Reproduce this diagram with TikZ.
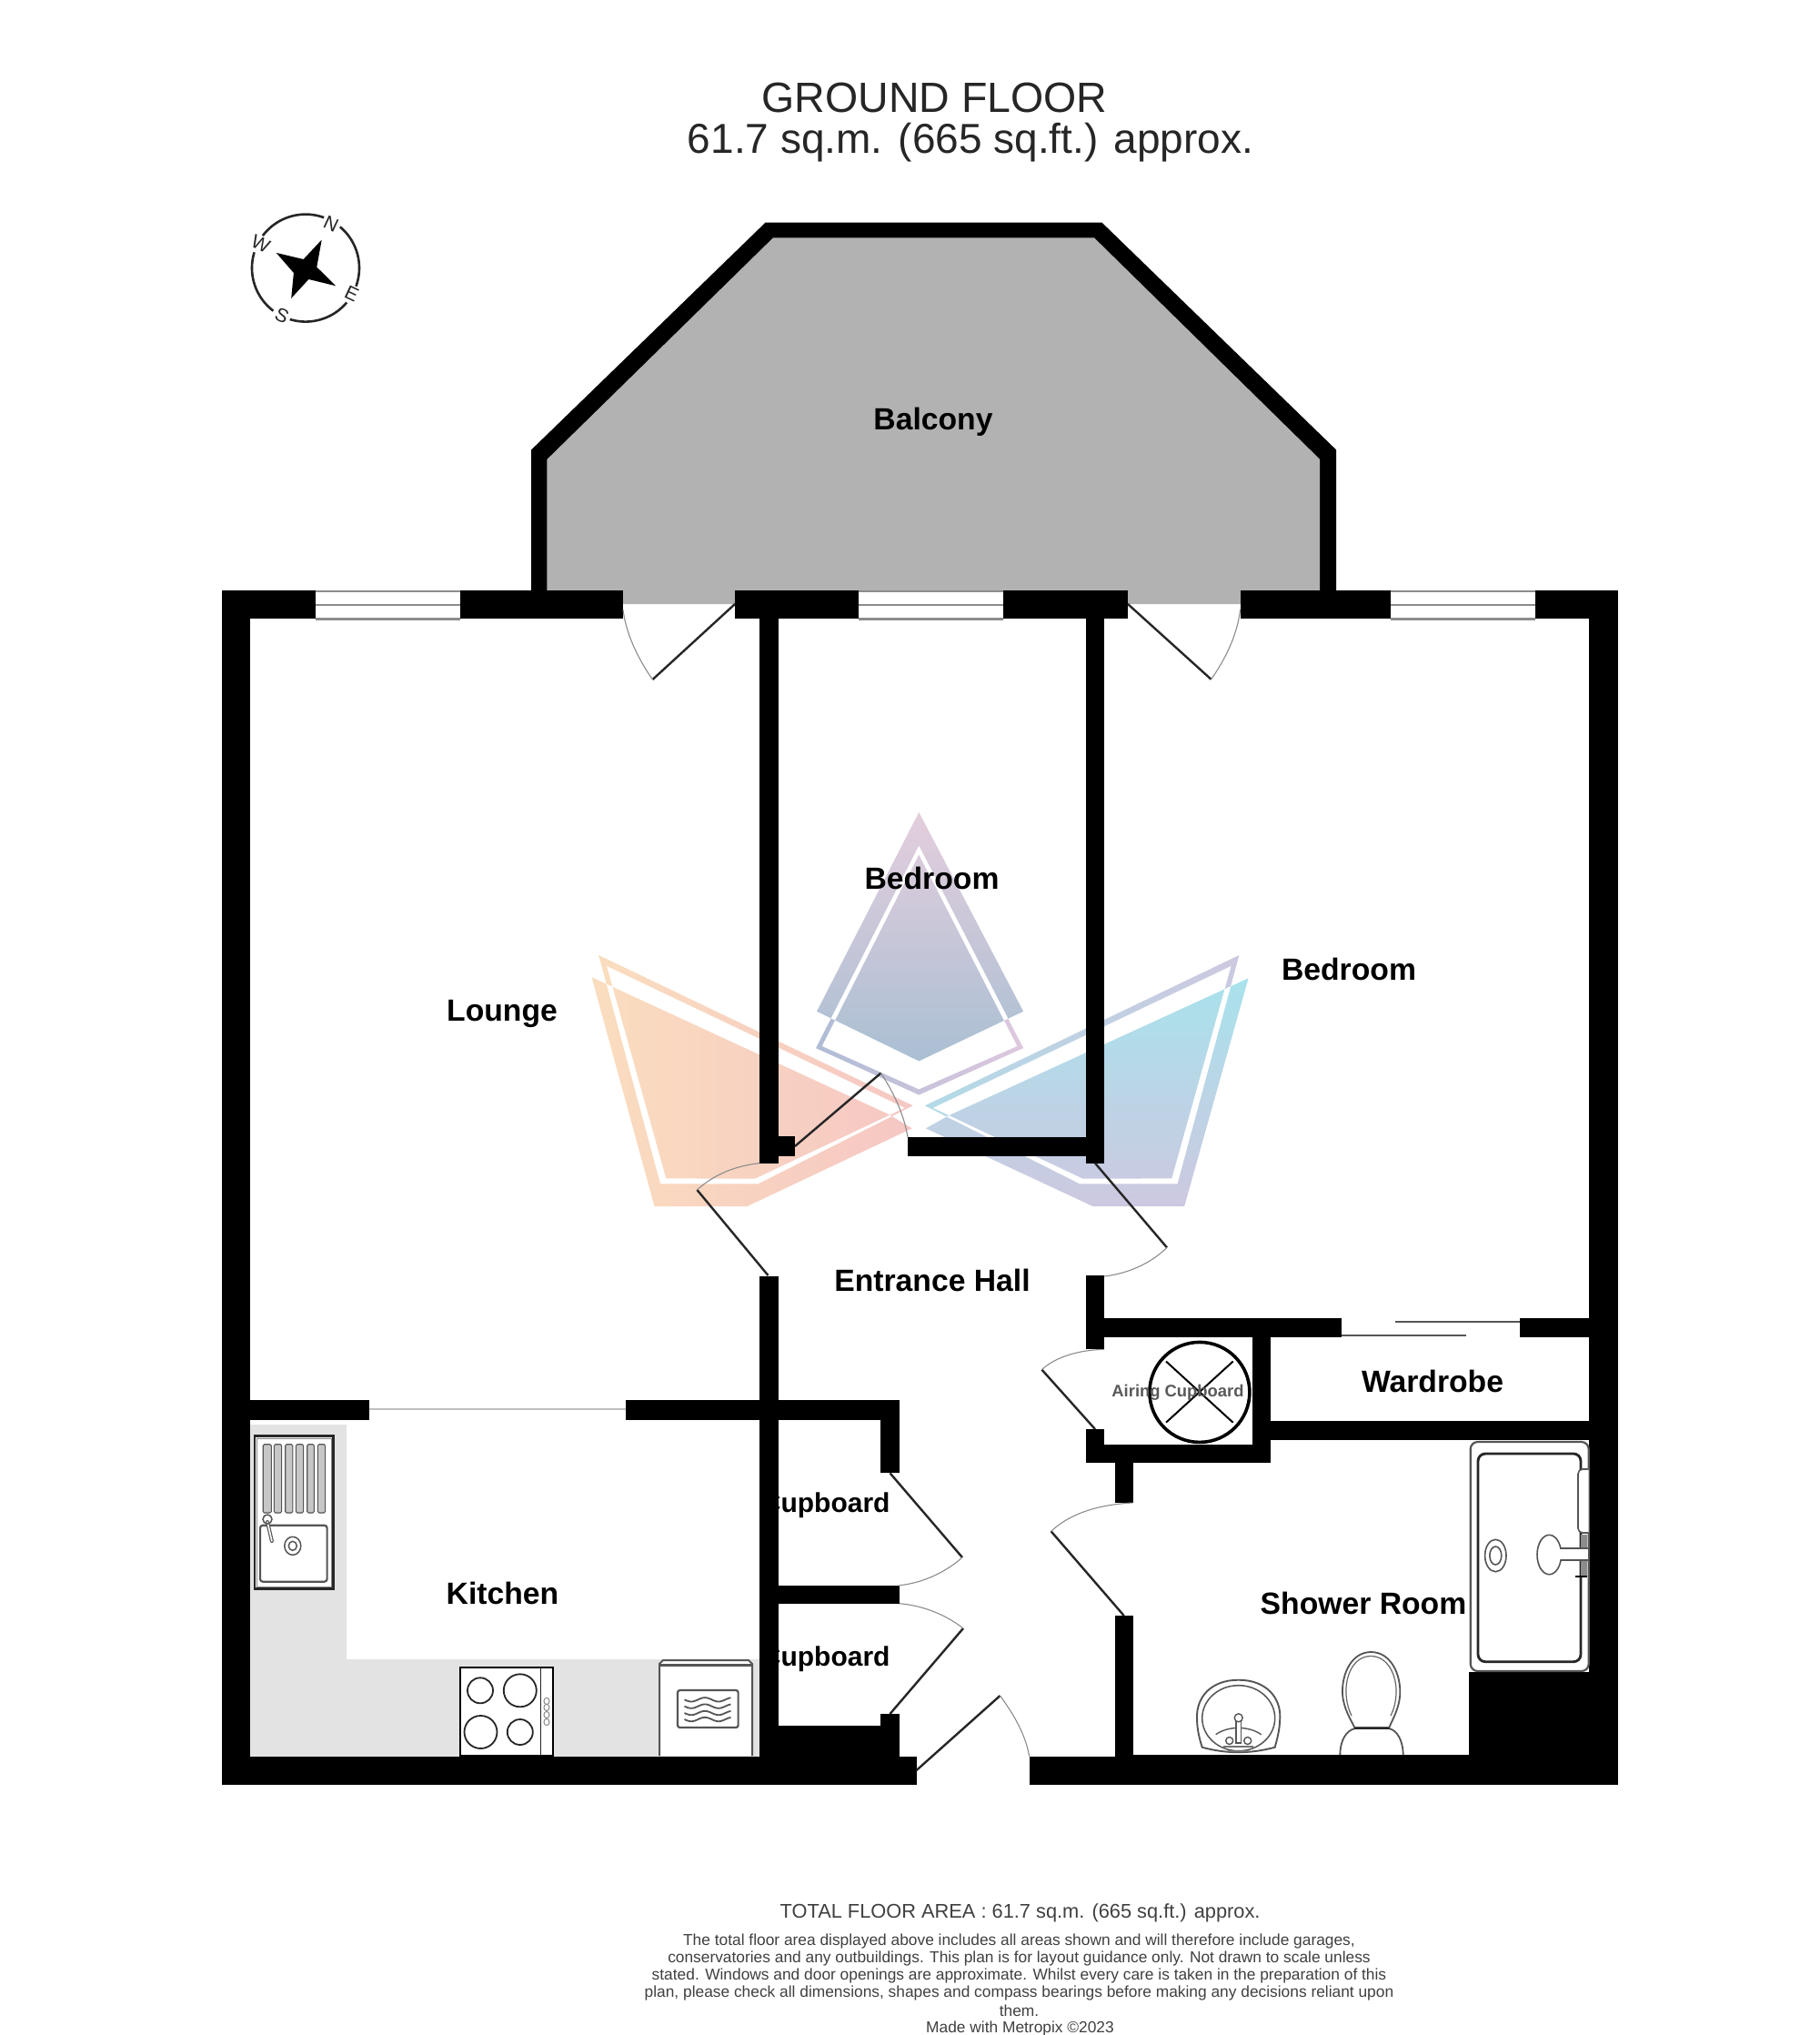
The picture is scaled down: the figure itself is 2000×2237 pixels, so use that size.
\documentclass[tikz,border=0pt]{standalone}
\usepackage{fontspec}
\setmainfont{Liberation Sans}
\definecolor{balc}{HTML}{B2B2B2}
\definecolor{unit}{HTML}{E3E3E3}
\definecolor{fix}{HTML}{555555}
\definecolor{orA}{RGB}{250,221,190}
\definecolor{orB}{RGB}{246,199,196}
\definecolor{blA}{RGB}{168,226,236}
\definecolor{blB}{RGB}{205,200,224}
\tikzset{
  wall/.style={fill=black,draw=none},
  leaf/.style={draw=black!85,line width=2.4pt},
  swing/.style={draw=black!45,line width=1.1pt},
  room/.style={font=\fontsize{33.7}{40}\selectfont\bfseries,inner sep=0pt,text=black},
  cupb/.style={font=\fontsize{30}{36}\selectfont\bfseries,inner sep=0pt,text=black},
  fixline/.style={draw=fix,line width=2.2pt,fill=white},
  foot/.style={font=\fontsize{17.35}{20}\selectfont,inner sep=0pt,text=black!75},
  compassletter/.style={font=\fontsize{21}{24}\selectfont,inner sep=0pt,text=black!85,rotate=-25},
}
\begin{document}
\begin{tikzpicture}[x=1pt,y=-1pt]
\useasboundingbox (0,0) rectangle (2000,2237);
\fill[white] (0,0) rectangle (2000,2237);

% ---------- watermark (coordinates read from a crop grid)
\begin{scope}[xshift=620pt,yshift=-860pt,x=0.5102pt,y=-0.35714pt]
  % left piece
  \shade[even odd rule,left color=orA,right color=orB]
    (75,532)--(752,995)--(418,1236)--(208,1236)--cycle (92,565)--(735,1002)--(412,1220)--(220,1219)--cycle;
  \shade[left color=orA,right color=orB]
    (60,600)--(700,1022)--(750,1065)--(395,1305)--(195,1305)--cycle;
  \begin{scope}
    \clip (60,600)--(700,1022)--(750,1065)--(395,1305)--(195,1305)--cycle;
    \fill[white,even odd rule] (75,532)--(752,995)--(418,1236)--(208,1236)--cycle (92,565)--(735,1002)--(412,1220)--(220,1219)--cycle;
  \end{scope}
  % right piece
  \shade[even odd rule,top color=blB,bottom color={rgb,255:red,165;green,227;blue,234}]
    (1455,532)--(778,995)--(1112,1236)--(1322,1236)--cycle (1438,565)--(795,1002)--(1118,1220)--(1310,1219)--cycle;
  \shade[top color=blA,bottom color=blB]
    (1475,603)--(830,1025)--(780,1065)--(1140,1305)--(1337,1305)--cycle;
  \begin{scope}
    \clip (1475,603)--(830,1025)--(780,1065)--(1140,1305)--(1337,1305)--cycle;
    \fill[white,even odd rule] (1455,532)--(778,995)--(1112,1236)--(1322,1236)--cycle (1438,565)--(795,1002)--(1118,1220)--(1310,1219)--cycle;
  \end{scope}
  % centre piece
  \shade[even odd rule,left color={rgb,255:red,176;green,188;blue,214},right color={rgb,255:red,222;green,200;blue,222}]
    (765,195)--(990,818)--(765,962)--(543,818)--cycle (765,222)--(977,812)--(765,945)--(556,812)--cycle;
  \shade[top color={rgb,255:red,228;green,206;blue,221},bottom color={rgb,255:red,170;green,191;blue,211}]
    (765,92)--(990,705)--(765,858)--(545,705)--cycle;
  \begin{scope}
    \clip (765,92)--(990,705)--(765,858)--(545,705)--cycle;
    \fill[white,even odd rule] (765,195)--(990,818)--(765,962)--(543,818)--cycle (765,222)--(977,812)--(765,945)--(556,812)--cycle;
  \end{scope}
\end{scope}

% ---------- kitchen units floor
\fill[unit] (275,1566) -| (381,1824) -| (835,1931) -| cycle;

% ---------- balcony
\fill[black] (584,649)--(584,494.6)--(841.6,244.6)--(1211.4,244.6)--(1469.2,494.6)--(1469.2,649)--cycle;
\fill[balc] (601.4,664)--(601.4,505)--(850,261.4)--(1203,261.4)--(1451.2,505)--(1451.2,664)--cycle;

% ---------- labels (walls are drawn over them)
\node[room] (balcony) at (1026,464) {Balcony};
\node[room] (bed1) at (1024.5,965) {Bedroom};
\node[room] (bed2) at (1483,1065) {Bedroom};
\node[room] (lounge) at (552,1114) {Lounge};
\node[room] (hall) at (1025,1407) {Entrance Hall};
\node[room] (kitchen) at (552.5,1751) {Kitchen};
\node[room] (wardrobe) at (1575,1518.5) {Wardrobe};
\node[room] (shower) at (1499,1762.5) {Shower Room};
\begin{scope}
  \clip (855.5,1600) rectangle (990,1880);
  \node[cupb] (cup1) at (907.7,1655) {Cupboard};
  \node[cupb] (cup2) at (907.7,1823.5) {Cupboard};
\end{scope}

% ---------- walls: top run
\fill[wall] (243.8,649) rectangle (685,680.4);
\fill[wall] (808,649) rectangle (1240,680.4);
\fill[wall] (1363.5,649) rectangle (1778.6,680.4);
% windows
\foreach \xa/\xb in {347/506,944/1103,1528.8/1688}{
  \fill[white] (\xa,649.5) rectangle (\xb,680.8);
  \draw[black!45,line width=2.2pt] (\xa,650) -- (\xb,650) (\xa,665) -- (\xb,665) (\xa,680.5) -- (\xb,680.5);
}
% outer walls
\fill[wall] (243.8,649) rectangle (275,1961.7);
\fill[wall] (1747,649) rectangle (1778.6,1961.9);
\fill[wall] (243.8,1930.7) rectangle (1008,1961.7);
\fill[wall] (1131.6,1930.7) rectangle (1778.6,1961.9);
% bedroom walls
\fill[wall] (835,680) rectangle (856,1278.6);
\fill[wall] (1193.5,680) rectangle (1214.4,1278.6);
\fill[wall] (856,1249) rectangle (874,1270.7);
\fill[wall] (998,1250) rectangle (1214,1270.7);
% central wall below hall door
\fill[wall] (835,1403) rectangle (855.5,1931);
\fill[wall] (275,1539) rectangle (406,1560.7);
\fill[wall] (687.7,1539) rectangle (989,1560.7);
\fill[wall] (968,1539) rectangle (989,1619.3);
\fill[wall] (855,1742.7) rectangle (989,1762.7);
\fill[wall] (968,1884) rectangle (989,1931);
\fill[wall] (855,1897.3) rectangle (989,1931);
% airing / wardrobe walls
\fill[wall] (1193.9,1402) rectangle (1214.3,1483.3);
\fill[wall] (1193.9,1449.3) rectangle (1474.5,1470.4);
\fill[wall] (1671,1449.3) rectangle (1747,1470.4);
\fill[wall] (1376.5,1470) rectangle (1397,1608);
\fill[wall] (1194,1571) rectangle (1214.3,1608);
\fill[wall] (1194,1587.8) rectangle (1397,1608);
\fill[wall] (1397,1562) rectangle (1747,1583.3);
% shower room
\fill[wall] (1225.5,1608) rectangle (1246,1651.9);
\fill[wall] (1225.5,1776) rectangle (1246,1931);
\fill[wall] (1614.8,1838) rectangle (1747,1931);

% lounge / kitchen opening
\draw[black!25,line width=1.6pt] (406,1549) -- (687.7,1549);
% sliding doors
\draw[fix,line width=2.6pt] (1534,1453) -- (1671,1453) (1474.5,1467.8) -- (1612,1467.8);

% ---------- doors
\draw[leaf] (808,664) -- (717.5,747);
\draw[swing] (717.5,747) .. controls (700,722) and (688,695) .. (685,670);
\draw[leaf] (1240,664) -- (1331.6,746.8);
\draw[swing] (1331.6,746.8) .. controls (1349,722) and (1361,695) .. (1363.5,670);
\draw[leaf] (844.5,1402) -- (766.4,1308);
\draw[swing] (766.4,1308) .. controls (784,1292) and (806,1282) .. (835,1278.6);
\draw[leaf] (874,1260) -- (968.5,1179.6);
\draw[swing] (968.5,1179.6) .. controls (982,1200) and (994,1225) .. (998,1250);
\draw[leaf] (1204,1278.6) -- (1283,1371.4);
\draw[swing] (1283,1371.4) .. controls (1265,1389) and (1240,1400) .. (1214,1403);
\draw[leaf] (978.5,1619.3) -- (1058,1712);
\draw[swing] (1058,1712) .. controls (1040,1728) and (1015,1740) .. (989,1742.7);
\draw[leaf] (978.5,1884) -- (1059,1790);
\draw[swing] (1059,1790) .. controls (1040,1775) and (1015,1765) .. (989,1762.7);
\draw[leaf] (1007.6,1946) -- (1099.5,1864);
\draw[swing] (1099.5,1864) .. controls (1115,1885) and (1128,1908) .. (1131.6,1930.7);
\draw[leaf] (1204,1571) -- (1145.4,1505.6);
\draw[swing] (1145.4,1505.6) .. controls (1160,1492) and (1185,1484) .. (1214,1483.3);
\draw[leaf] (1235.7,1776) -- (1155.6,1683.3);
\draw[swing] (1155.6,1683.3) .. controls (1175,1665) and (1205,1654) .. (1245,1652);

% ---------- compass
\foreach \a/\b in {70/143,163/233,253/320,-20/50}{
  \draw[black!85,line width=2.6pt] plot[domain=\a:\b,samples=30,smooth] ({336+59*cos(\x)},{294.6-59*sin(\x)});
}
\fill[black] (353.7,263.6)--(348.3,293.6)--(369.3,314.3)--(339.4,307)--(320.2,327.9)--(322.9,300)--(303.7,277.9)--(333.6,285)--cycle;
\node[compassletter] (cn) at (364,245.7) {N};
\node[compassletter] (cw) at (286.7,268) {W};
\node[compassletter] (cs) at (310,346.7) {S};
\node[compassletter] (ce) at (386.7,323) {E};

% ---------- sink
\draw[draw=black!85,fill=white,line width=2.6pt] (280,1578.7) rectangle (366.7,1746.7);
\draw[fix!70,line width=1pt] (282.5,1581) rectangle (364,1744);
\foreach \xa/\xb in {289.2/298.4,301.4/309.6,313.7/321.8,325.4/333.6,337.7/345.3,349.4/357.6}{
  \draw[fix,fill=black!22,line width=1.1pt,rounded corners=1.5pt] (\xa,1587.7) rectangle (\xb,1663);
}
\draw[fixline,rounded corners=3pt] (286,1676.7) rectangle (359.6,1738.7);
\draw[fix,line width=1.5pt] (321.8,1699.3) ellipse [x radius=9pt,y radius=10pt];
\draw[fix,line width=1.5pt] (321.8,1699.3) ellipse [x radius=4.5pt,y radius=5pt];
\draw[fix,line width=4pt,line cap=round] (294,1673) -- (298.9,1694);
\draw[white,line width=1.6pt,line cap=round] (294,1673) -- (298.9,1694);
\draw[fix,line width=1.5pt] (294,1670) ellipse [x radius=5pt,y radius=5pt];

% ---------- hob
\draw[draw=black,fill=white,line width=2pt] (505.5,1833.3) rectangle (608,1930);
\draw[black!85,line width=1.6pt] (594.3,1833.3) -- (594.3,1930);
\draw[black!85,line width=1.8pt] (528,1858.3) circle [radius=14pt];
\draw[black!85,line width=1.8pt] (571.8,1858.3) circle [radius=18pt];
\draw[black!85,line width=1.8pt] (528.5,1904) circle [radius=18pt];
\draw[black!85,line width=1.8pt] (571.8,1904) circle [radius=14pt];
\foreach \yy in {1870,1877,1885,1893}{
  \draw[black!45,line width=1pt] (601,\yy) ellipse [x radius=3pt,y radius=3.6pt];
}

% ---------- oven
\draw[draw=fix,fill=white,line width=2pt] (725,1930)--(725,1829)--(729,1825)--(823,1825)--(827,1829)--(827,1930);
\draw[fix,line width=3pt] (725,1830) -- (827,1830);
\draw[fixline,rounded corners=2.5pt] (745,1858) rectangle (811.6,1899);
\foreach \yy in {1868.3,1875.6,1883,1890}{
  \draw[fix,line width=1.8pt] plot[domain=0:51,samples=30,smooth] ({752.5+\x},{\yy+2.2*sin(\x*12)});
}

% ---------- airing cupboard cylinder
\draw[black,line width=3.6pt] (1318.9,1530.4) circle [radius=55pt];
\draw[black,line width=2pt] (1282,1496.5) -- (1355.6,1563.7) (1355.6,1496.5) -- (1282,1563.7);
\fill[wall] (1194,1587.8) rectangle (1397,1608);
\node[font=\fontsize{18.4}{22}\selectfont\bfseries,inner sep=0pt,text=black!65] (airing) at (1295,1530.4) {Airing Cupboard};

% ---------- shower
\draw[draw=fix,fill=white,line width=2.2pt,rounded corners=8pt] (1616.7,1837) -- (1616.7,1585) -- (1746.7,1585) -- (1746.7,1837) -- cycle;
\draw[draw=black!85,line width=2.8pt,rounded corners=8pt] (1625,1598) rectangle (1738,1826.7);
\draw[fix,line width=1.6pt,fill=white,rounded corners=5pt] (1746.7,1615) -- (1735,1615) -- (1735,1685) -- (1746.7,1685);
\fill[black!45] (1738.3,1687) rectangle (1745,1733);
\draw[black,line width=2pt] (1731.7,1733.3) -- (1745,1733.3);
\draw[fix,line width=1.6pt] (1644.3,1710) ellipse [x radius=11.7pt,y radius=17.7pt];
\draw[fix,line width=1.6pt] (1644.3,1710) ellipse [x radius=6.5pt,y radius=10pt];
\draw[fix,line width=1.6pt,fill=white] (1712,1702) rectangle (1746.7,1715);
\draw[fix,line width=1.6pt,fill=white] (1703.3,1709) ellipse [x radius=13.3pt,y radius=21.7pt];
\fill[white] (1714,1703.2) rectangle (1722,1713.8);

% ---------- basin
\draw[fix,line width=1.9pt,fill=white] (1361.7,1846.7) .. controls (1392,1846.7) and (1408,1866) .. (1407.3,1888) .. controls (1407,1902) and (1404,1912) .. (1401.7,1920.7) .. controls (1375,1928) and (1348,1928) .. (1321.7,1920.7) .. controls (1319,1912) and (1316,1902) .. (1316,1888) .. controls (1315.5,1866) and (1331,1846.7) .. (1361.7,1846.7) -- cycle;
\draw[fix,line width=1.5pt] (1361.7,1888.7) ellipse [x radius=40pt,y radius=36pt];
\draw[fix,line width=1.4pt] (1336.7,1906.7) .. controls (1350,1897) and (1373,1897) .. (1386.7,1906.7);
\draw[fix,line width=1.6pt,fill=white] (1359,1892) rectangle (1364.5,1916);
\draw[fix,line width=1.4pt,fill=white] (1361.7,1888.3) circle [radius=4.5pt];
\draw[fix,line width=1.4pt,fill=white] (1351.7,1913.5) circle [radius=4pt];
\draw[fix,line width=1.4pt,fill=white] (1371.7,1913.5) circle [radius=4pt];
\draw[black!55,line width=2pt] (1345,1920) -- (1378,1920) (1350,1925) -- (1373,1925);

% ---------- toilet
\draw[fix,line width=1.8pt,fill=white] (1507.3,1816) .. controls (1529,1816) and (1540,1840) .. (1539.3,1862) .. controls (1538.5,1878) and (1531,1890) .. (1527.3,1899) -- (1489.3,1899) .. controls (1485,1890) and (1477,1878) .. (1476,1862) .. controls (1475,1840) and (1486,1816) .. (1507.3,1816) -- cycle;
\draw[black!60,line width=1.2pt] (1507.3,1820.5) .. controls (1526,1820.5) and (1536,1842) .. (1535,1862) .. controls (1534.5,1872) and (1532,1880) .. (1529,1886) (1486,1886) .. controls (1483,1880) and (1480.5,1872) .. (1480,1862) .. controls (1479,1842) and (1488,1820.5) .. (1507.3,1820.5);
\draw[fix,line width=1.8pt,fill=white] (1473.3,1930) .. controls (1473.3,1913) and (1480,1902) .. (1490,1900) -- (1527,1900) .. controls (1536,1902) and (1542.7,1913) .. (1542.7,1930);
\draw[black!85,line width=2pt] (1489,1900) -- (1528,1900);
\fill[wall] (1225.5,1929) rectangle (1614.8,1961.9);

% ---------- titles
\node[font=\fontsize{46.5}{50}\selectfont,inner sep=0pt,text=black!85] (title1) at (1027.5,107.5) {GROUND FLOOR};
\node[font=\fontsize{46}{50}\selectfont,inner sep=0pt,text=black!85] (title2) at (1067,156.5) {61.7 sq.m. (665 sq.ft.) approx.};

% ---------- footer
\node[font=\fontsize{21.8}{26}\selectfont,inner sep=0pt,text=black!75] (total) at (1121.6,2102.5) {TOTAL FLOOR AREA : 61.7 sq.m. (665 sq.ft.) approx.};
\node[foot] (f1) at (1120.5,2133.5) {The total floor area displayed above includes all areas shown and will therefore include garages,};
\node[foot] (f2) at (1120.5,2152.5) {conservatories and any outbuildings. This plan is for layout guidance only. Not drawn to scale unless};
\node[foot] (f3) at (1120.5,2172) {stated. Windows and door openings are approximate. Whilst every care is taken in the preparation of this};
\node[foot] (f4) at (1120.5,2191) {plan, please check all dimensions, shapes and compass bearings before making any decisions reliant upon};
\node[foot] (f5) at (1120.5,2210) {them.};
\node[foot] (f6) at (1121.5,2229.5) {Made with Metropix ©2023};
\end{tikzpicture}
\end{document}
